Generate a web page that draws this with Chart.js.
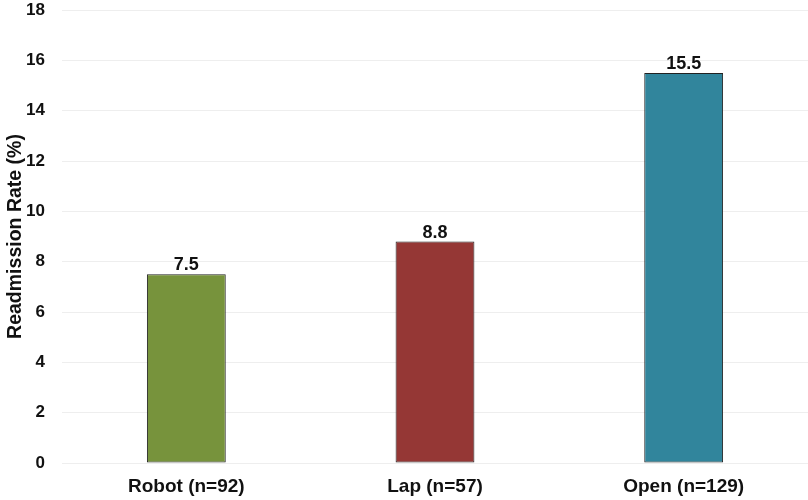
<!DOCTYPE html>
<html>
<head>
<meta charset="utf-8">
<script src="https://cdn.jsdelivr.net/npm/chart.js@4"></script>
<style>
  html, body { margin: 0; padding: 0; background: #fff; }
  #wrap { width: 808px; height: 500px; position: relative; }
</style>
</head>
<body>
<div id="wrap"><canvas id="c"></canvas></div>
<script>
// Readmission rate by surgical approach
const categories = ['Robot (n=92)', 'Lap (n=57)', 'Open (n=129)'];
const readmissionRates = [7.5, 8.8, 15.5];
const barColors = ['#77933C', '#953735', '#31859C'];
const yTicks = [0, 2, 4, 6, 8, 10, 12, 14, 16, 18];

const FONT = '"Liberation Sans", Arial, sans-serif';

// Writes each bar's value just above it
const valueLabels = {
  id: 'valueLabels',
  afterDatasetsDraw(chart) {
    const ctx = chart.ctx;
    const meta = chart.getDatasetMeta(0);
    ctx.save();
    ctx.font = 'bold 18px ' + FONT;
    ctx.fillStyle = '#111';
    ctx.textAlign = 'center';
    ctx.textBaseline = 'alphabetic';
    meta.data.forEach((bar, i) => {
      ctx.fillText(readmissionRates[i].toFixed(1), bar.x, bar.y - 4);
    });
    ctx.restore();
  }
};

new Chart(document.getElementById('c'), {
  type: 'bar',
  data: {
    labels: categories,
    datasets: [{
      data: readmissionRates,
      backgroundColor: barColors,
      borderColor: '#222222',
      borderWidth: 1,
      borderSkipped: false,
      categoryPercentage: 1,
      barPercentage: 0.317
    }]
  },
  options: {
    responsive: true,
    maintainAspectRatio: false,
    animation: false,
    layout: { padding: { top: 10, right: 0, bottom: 0, left: 0 } },
    plugins: {
      legend: { display: false },
      tooltip: { enabled: false }
    },
    scales: {
      x: {
        grid: { display: false, drawTicks: false },
        border: { display: false },
        ticks: {
          color: '#111',
          font: { family: FONT, size: 19, weight: 'bold' },
          padding: 12
        },
        afterFit(axis) { axis.height = 37; axis.paddingLeft = 0; axis.paddingRight = 0; }
      },
      y: {
        min: 0,
        max: 18,
        afterBuildTicks(axis) { axis.ticks = yTicks.map(v => ({ value: v })); },
        grid: { color: '#eeeeee', lineWidth: 1, drawTicks: false },
        border: { display: false },
        ticks: {
          color: '#111',
          font: { family: FONT, size: 17, weight: 'bold' },
          padding: 17
        },
        title: {
          display: true,
          text: 'Readmission Rate (%)',
          color: '#111',
          font: { family: FONT, size: 19.5, weight: 'bold' },
          padding: { top: 4, bottom: 0 }
        },
        afterFit(axis) { axis.width = 62; axis.paddingTop = 0; axis.paddingBottom = 0; }
      }
    }
  },
  plugins: [valueLabels]
});
</script>
</body>
</html>
